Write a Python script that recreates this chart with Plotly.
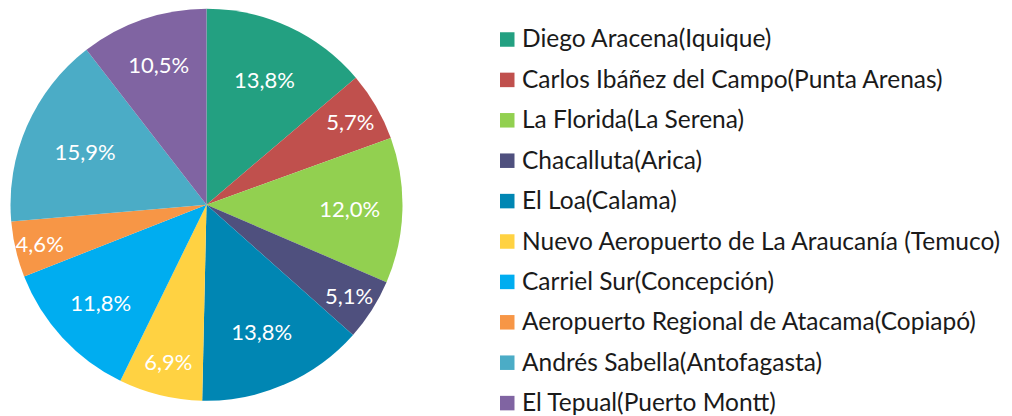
import plotly.graph_objects as go

labels = [
    "Diego Aracena(Iquique)",
    "Carlos Ibáñez del Campo(Punta Arenas)",
    "La Florida(La Serena)",
    "Chacalluta(Arica)",
    "El Loa(Calama)",
    "Nuevo Aeropuerto de La Araucanía (Temuco)",
    "Carriel Sur(Concepción)",
    "Aeropuerto Regional de Atacama(Copiapó)",
    "Andrés Sabella(Antofagasta)",
    "El Tepual(Puerto Montt)",
]
values = [13.8, 5.7, 12.0, 5.1, 13.8, 6.9, 11.8, 4.6, 15.9, 10.5]
colors = ["#23A081", "#C0504D", "#92D050", "#4F507E", "#0086B3",
          "#FFD242", "#00ADF0", "#F79646", "#4BACC6", "#8064A2"]

# page body has an 8px margin; figure sized to fill the remaining window
OFF = 8
W, H = 1012 - OFF, 416 - OFF
FONT = "Lato"


def px(x):
    return (x - OFF) / W


def py(y):
    return 1 - (y - OFF) / H


fig = go.Figure()
fig.add_trace(go.Pie(
    labels=labels,
    values=values,
    sort=False,
    direction="clockwise",
    rotation=0,
    marker=dict(colors=colors, line=dict(color="white", width=0)),
    texttemplate="%{value:.1f}%",
    textposition="inside",
    insidetextorientation="horizontal",
    textfont=dict(family=FONT, size=22, color="white"),
    domain=dict(x=[px(10.5), px(402.5)], y=[py(400.7), py(8.7)]),
    showlegend=False,
    hoverinfo="label+percent",
))

# manual legend
row0, step = 39.5, 40.4
shapes = []
annotations = []
for i, (lab, col) in enumerate(zip(labels, colors)):
    yc = row0 + step * i
    shapes.append(dict(
        type="rect", xref="paper", yref="paper",
        x0=px(500), x1=px(514.5),
        y0=py(yc + 7.25), y1=py(yc - 7.25),
        fillcolor=col, line=dict(width=0),
    ))
    annotations.append(dict(
        x=px(520), y=py(yc - 1.5), xref="paper", yref="paper",
        xanchor="left", yanchor="middle", showarrow=False,
        text=lab, font=dict(family=FONT, size=24.5, color="#1a1a1a"),
    ))

fig.update_layout(
    width=W, height=H,
    margin=dict(l=0, r=0, t=0, b=0),
    paper_bgcolor="white",
    plot_bgcolor="white",
    separators=",.",
    uniformtext=dict(minsize=22, mode="show"),
    shapes=shapes,
    annotations=annotations,
    font=dict(family=FONT),
)

fig.write_html("out.html")
